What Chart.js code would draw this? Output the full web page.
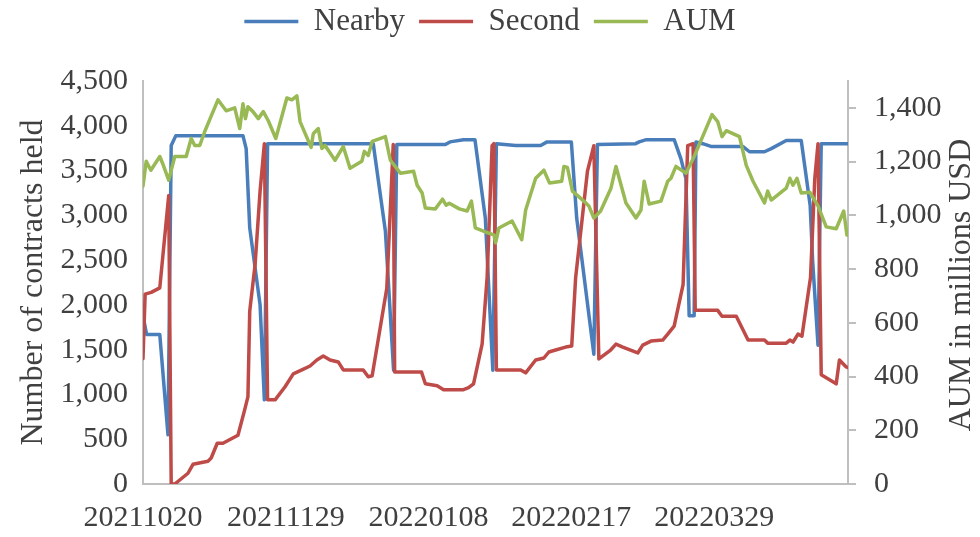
<!DOCTYPE html>
<html lang="en">
<head>
    <meta charset="UTF-8">
    <title>Nearby / Second / AUM</title>
    <script src="https://cdn.jsdelivr.net/npm/chart.js"></script>
    <style>
        html, body { margin: 0; padding: 0; background: #fff; }
        .graph { width: 980px; height: 537px; }
    </style>
</head>
<body>
    <div class="graph">
        <canvas id="myChart" width="980" height="537"></canvas>
    </div>

<script>
    // x = days since 20211020
    const tickDays = [0, 40, 80, 120, 160];
    const tickLabels = ['20211020', '20211129', '20220108', '20220217', '20220329'];
    const aumTicks = [0, 200, 400, 600, 800, 1000, 1200, 1400];

    const nearbyDays = [0, 1, 4.7, 7, 7.9, 9.2, 28, 28.9, 29.9, 32.8, 34, 34.9, 64.5, 67.9, 70.2, 71.1, 84.7, 86, 89.8, 93,
        95.9, 98, 99, 104.4, 111.4, 113.2, 120, 121.5, 126.3, 127.3, 138, 139, 141, 148.8, 150.7, 152.1, 153, 154.4, 154.9, 156.8,
        159.1, 168, 169.9, 174.1, 176, 180.2, 184.4, 186.9, 187.6, 189.1, 190, 197.5];
    const nearbyVals = [1880, 1670, 1670, 550, 3780, 3890, 3890, 3745, 2860, 2000, 940, 3800, 3800, 2825, 1270, 3790, 3790, 3820, 3845, 3845,
        2970, 1270, 3800, 3780, 3780, 3820, 3820, 2970, 1450, 3790, 3800, 3820, 3845, 3845, 3630, 3410, 1880, 1880, 3820, 3800,
        3770, 3770, 3710, 3710, 3745, 3835, 3835, 3110, 2490, 1550, 3800, 3800];

    const secondDays = [0, 0.6, 2.3, 4.7, 7.2, 7.9, 8.9, 12.6, 14, 18.2, 19.1, 20.8, 22.4, 26.6, 28.5, 29.4, 29.9, 31.4, 32.8, 34,
        34.9, 37, 39.8, 42.1, 44.5, 46.8, 48.7, 50.5, 52.4, 54.7, 56.1, 61.7, 63.1, 64.2, 68.3, 70.1, 70.5, 78, 79.1, 82.4,
        84.2, 89.8, 91.2, 92.6, 95, 96.4, 97.8, 98.3, 99, 105.8, 107.2, 110, 112.3, 113.7, 115.6, 118.4, 120.1, 121.2, 124.5, 126.3,
        127.7, 131, 132.5, 134.4, 138.6, 140, 142.3, 145.6, 147, 148.8, 151.3, 152.6, 154.1, 154.7, 161, 162.2, 166.2, 169.5, 174.1, 175,
        180.2, 181.2, 182.1, 183.5, 184.6, 187, 188.2, 189.1, 190, 194.2, 195.1, 197, 197.5];
    const secondVals = [1400, 2120, 2140, 2190, 3220, 0, 0, 120, 220, 255, 290, 455, 455, 545, 830, 975, 1930, 2450, 3270, 3800,
        940, 940, 1086, 1230, 1274, 1318, 1385, 1429, 1385, 1363, 1274, 1274, 1197, 1208, 2186, 3790, 1252, 1252, 1119, 1097,
        1053, 1053, 1075, 1119, 1562, 2305, 3778, 3800, 1274, 1274, 1241, 1385, 1407, 1474, 1496, 1529, 1540, 2305, 3490, 3778,
        1396, 1496, 1562, 1529, 1463, 1551, 1596, 1607, 1673, 1762, 2227, 3778, 3800, 1939, 1939, 1873, 1873, 1607, 1607, 1573,
        1573, 1607, 1585, 1673, 1650, 2305, 3413, 3800, 1219, 1119, 1385, 1307, 1300];

    const aumDays = [0, 0.9, 2.2, 4.7, 5.6, 7.2, 8.9, 12.1, 13.5, 14.5, 15.9, 17.3, 21, 23.3, 25.7, 27.1, 28, 28.7, 29.4, 30.8,
        32.3, 33.7, 35.1, 37.2, 40.3, 41.7, 43.1, 44, 47.1, 47.7, 49.1, 50.1, 51, 53.8, 56.1, 58, 61.3, 62, 63.1, 64.2,
        67.9, 69.3, 72.1, 75.8, 76.8, 78.2, 79.1, 81.9, 83.9, 84.9, 85.8, 88.6, 90.8, 92, 93.1, 95.9, 98.3, 98.8, 99.7, 103.4,
        106.1, 107.2, 110, 112.3, 113.9, 117.3, 117.9, 118.9, 120.3, 123.5, 124.9, 126.3, 128.2, 131.1, 132.5, 135.3, 138.1, 139.5, 140.4, 141.8,
        145.1, 147, 147.9, 149.3, 152.1, 154.4, 159.4, 161, 162.2, 163.4, 167.1, 169, 170.9, 174.1, 175, 176, 180.2, 181.2, 182.1, 183.2,
        184.4, 186.8, 189.1, 191.4, 194.2, 196.3, 197.2];
    const aumVals = [1109, 1201, 1168, 1219, 1190, 1131, 1219, 1219, 1286, 1260, 1260, 1312, 1430, 1389, 1400, 1323, 1415, 1360, 1404, 1386,
        1360, 1386, 1352, 1286, 1437, 1430, 1445, 1349, 1253, 1304, 1323, 1249, 1260, 1205, 1256, 1175, 1201, 1238, 1223, 1275,
        1293, 1205, 1157, 1164, 1112, 1083, 1027, 1024, 1060, 1038, 1045, 1024, 1016, 1053, 953, 938, 927, 898, 953, 979,
        909, 1020, 1138, 1168, 1120, 1127, 1182, 1178, 1090, 1053, 1035, 990, 1016, 1101, 1182, 1046, 990, 1020, 1127, 1042,
        1053, 1127, 1138, 1182, 1157, 1219, 1375, 1349, 1293, 1315, 1293, 1186, 1127, 1046, 1090, 1057, 1101, 1138, 1112, 1138,
        1083, 1086, 1035, 957, 950, 1016, 927];

    const fonte = 'Liberation Serif';
    const corTexto = '#404040';
    const corEixo = '#bfbfbf';

    function pontos(dias, vals) {
        return dias.map(function (d, i) { return { x: d, y: vals[i] }; });
    }

    // legenda mais alta, empurra a area do grafico para baixo
    const legendaAlta = {
        id: 'legendaAlta',
        beforeInit(chart) {
            const fitOriginal = chart.legend.fit;
            chart.legend.fit = function () {
                fitOriginal.bind(chart.legend)();
                this.height += 34;
            };
        }
    };

    // titulo do eixo direito, lido de baixo para cima
    const tituloDireita = {
        id: 'tituloDireita',
        afterDraw(chart) {
            const ctx = chart.ctx;
            ctx.save();
            ctx.translate(962, 285);
            ctx.rotate(-Math.PI / 2);
            ctx.font = '32px "' + fonte + '"';
            ctx.fillStyle = corTexto;
            ctx.textAlign = 'center';
            ctx.textBaseline = 'middle';
            ctx.fillText('AUM in millions USD', 0, 0);
            ctx.restore();
        }
    };

    const dados = {
        datasets: [
            {
                label: 'Nearby',
                data: pontos(nearbyDays, nearbyVals),
                borderColor: '#4a7ebb',
                backgroundColor: '#4a7ebb',
                borderWidth: 3.5,
                yAxisID: 'y',
                order: 2
            },
            {
                label: 'Second',
                data: pontos(secondDays, secondVals),
                borderColor: '#be4b48',
                backgroundColor: '#be4b48',
                borderWidth: 3.5,
                yAxisID: 'y',
                order: 1
            },
            {
                label: 'AUM',
                data: pontos(aumDays, aumVals),
                borderColor: '#98b954',
                backgroundColor: '#98b954',
                borderWidth: 3.5,
                yAxisID: 'y2',
                order: 0
            }
        ]
    };

    const config = {
        type: 'line',
        data: dados,
        options: {
            responsive: false,
            animation: false,
            layout: { padding: { top: -8, left: 0, right: 0, bottom: 0 } },
            elements: {
                line: { tension: 0, borderJoinStyle: 'round', borderCapStyle: 'round' },
                point: { radius: 0 }
            },
            plugins: {
                tooltip: { enabled: false },
                legend: {
                    position: 'top',
                    labels: {
                        usePointStyle: true,
                        pointStyle: 'line',
                        pointStyleWidth: 54,
                        padding: 14,
                        color: corTexto,
                        font: { family: fonte, size: 31 },
                        sort: function (a, b) { return a.datasetIndex - b.datasetIndex; }
                    }
                }
            },
            scales: {
                x: {
                    type: 'linear',
                    min: 0,
                    max: 197.5,
                    afterBuildTicks: function (scale) {
                        scale.ticks = tickDays.map(function (d) { return { value: d }; });
                    },
                    afterFit: function (scale) { scale.height = 53; },
                    grid: { display: false, drawTicks: false },
                    border: { display: true, color: corEixo, width: 2 },
                    ticks: {
                        padding: 16,
                        maxRotation: 0,
                        autoSkip: false,
                        color: corTexto,
                        font: { family: fonte, size: 30 },
                        callback: function (v, i) { return tickLabels[i]; }
                    }
                },
                y: {
                    position: 'left',
                    min: 0,
                    max: 4500,
                    afterFit: function (scale) { scale.width = 143; },
                    grid: { display: false, drawTicks: false },
                    border: { display: true, color: corEixo, width: 2 },
                    ticks: {
                        stepSize: 500,
                        padding: 15,
                        color: corTexto,
                        font: { family: fonte, size: 30 }
                    },
                    title: {
                        display: true,
                        text: 'Number of contracts held',
                        color: corTexto,
                        font: { family: fonte, size: 32 },
                        padding: { top: 14, bottom: 0 }
                    }
                },
                y2: {
                    position: 'right',
                    min: 0,
                    max: 1500,
                    afterFit: function (scale) { scale.width = 132; },
                    afterBuildTicks: function (scale) {
                        scale.ticks = aumTicks.map(function (v) { return { value: v }; });
                    },
                    grid: { drawOnChartArea: false, drawTicks: true, tickLength: 8, color: corEixo, lineWidth: 2 },
                    border: { display: true, color: corEixo, width: 2 },
                    ticks: {
                        padding: 18,
                        color: corTexto,
                        font: { family: fonte, size: 30 }
                    }
                }
            }
        },
        plugins: [legendaAlta, tituloDireita]
    };

    let myChart = new Chart(document.getElementById('myChart'), config);
</script>
</body>
</html>
